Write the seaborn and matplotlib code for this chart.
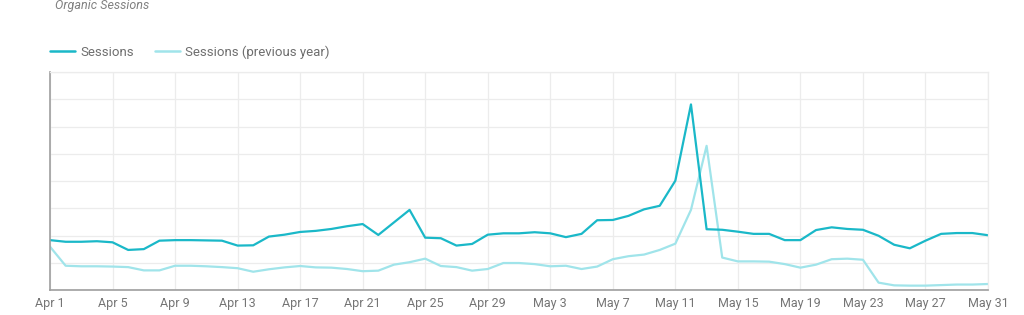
import numpy as np
import pandas as pd
import matplotlib
matplotlib.use("Agg")
import matplotlib.pyplot as plt
import seaborn as sns
from matplotlib.lines import Line2D

dates = pd.date_range("2021-04-01", "2021-05-31", freq="D")

sessions = [1.83, 1.77, 1.77, 1.79, 1.75, 1.47, 1.50, 1.81, 1.83, 1.83,
            1.82, 1.81, 1.63, 1.64, 1.96, 2.03, 2.13, 2.17, 2.24, 2.34,
            2.42, 2.02, 2.48, 2.94, 1.92, 1.90, 1.63, 1.69, 2.03, 2.08,
            2.08, 2.12, 2.08, 1.94, 2.06, 2.56, 2.57, 2.72, 2.96, 3.09,
            4.01, 6.81, 2.23, 2.21, 2.14, 2.06, 2.06, 1.83, 1.83, 2.20,
            2.30, 2.24, 2.21, 1.99, 1.66, 1.53, 1.81, 2.06, 2.09, 2.09,
            2.01]

sessions_prev = [1.59, 0.89, 0.87, 0.87, 0.86, 0.84, 0.72, 0.72, 0.89, 0.89,
                 0.87, 0.84, 0.80, 0.67, 0.76, 0.83, 0.88, 0.83, 0.82, 0.77,
                 0.69, 0.71, 0.93, 1.02, 1.15, 0.88, 0.84, 0.71, 0.77, 0.99,
                 0.99, 0.95, 0.87, 0.89, 0.77, 0.86, 1.13, 1.24, 1.30, 1.47,
                 1.70, 2.94, 5.29, 1.19, 1.05, 1.05, 1.04, 0.95, 0.82, 0.93,
                 1.13, 1.15, 1.11, 0.27, 0.17, 0.16, 0.16, 0.18, 0.20, 0.20,
                 0.22]

series_names = ["Sessions", "Sessions (previous year)"]
colors = ["#1ab8c8", "#a0e4ea"]
title = "Organic Sessions"

df = pd.DataFrame({
    "date": list(dates) * 2,
    "value": sessions + sessions_prev,
    "series": [series_names[0]] * len(dates) + [series_names[1]] * len(dates),
})

sns.set_theme(style="white")
plt.rcParams["font.family"] = ["Roboto", "DejaVu Sans"]

fig = plt.figure(figsize=(10.24, 3.15), dpi=100)
ax = fig.add_axes([50 / 1024, 25 / 315, 938 / 1024, 218 / 315])

sns.lineplot(data=df, x="date", y="value", hue="series", hue_order=series_names[::-1],
             palette={series_names[0]: colors[0], series_names[1]: colors[1]},
             ax=ax, legend=False, linewidth=1.6)

ax.set_xlim(dates[0], dates[-1])
ax.set_ylim(0, 8)
ax.set_yticks(np.arange(0, 9, 1))
ax.set_yticklabels([])
ticks = dates[::4]
ax.set_xticks(ticks)
ax.set_xticklabels([f"{d.strftime('%b')} {d.day}" for d in ticks], color="#757575", fontsize=9)
ax.tick_params(axis="x", length=0, pad=5)
ax.tick_params(axis="y", length=0)
ax.set_xlabel("")
ax.set_ylabel("")
ax.grid(True, color="#ececec", linewidth=0.9)
for s in ["top", "right"]:
    ax.spines[s].set_color("#ececec")
    ax.spines[s].set_linewidth(0.9)
for s in ["left", "bottom"]:
    ax.spines[s].set_color("#9e9e9e")
    ax.spines[s].set_linewidth(1.2)

handles = [Line2D([], [], color=colors[0], linewidth=1.8),
           Line2D([], [], color=colors[1], linewidth=1.8)]
leg = fig.legend(handles, series_names, loc="center left",
                 bbox_to_anchor=(50 / 1024, 1 - 52 / 315), ncol=2, frameon=False,
                 borderpad=0, borderaxespad=0,
                 handlelength=1.9, handletextpad=0.38, columnspacing=1.6,
                 fontsize=9.5)
for t in leg.get_texts():
    t.set_color("#6e6e6e")

fig.text(55 / 1024, 1 - 5 / 315, title, fontsize=9, style="italic",
         color="#808080", va="center", ha="left")

fig.savefig("out.png", dpi=100, facecolor="white")
